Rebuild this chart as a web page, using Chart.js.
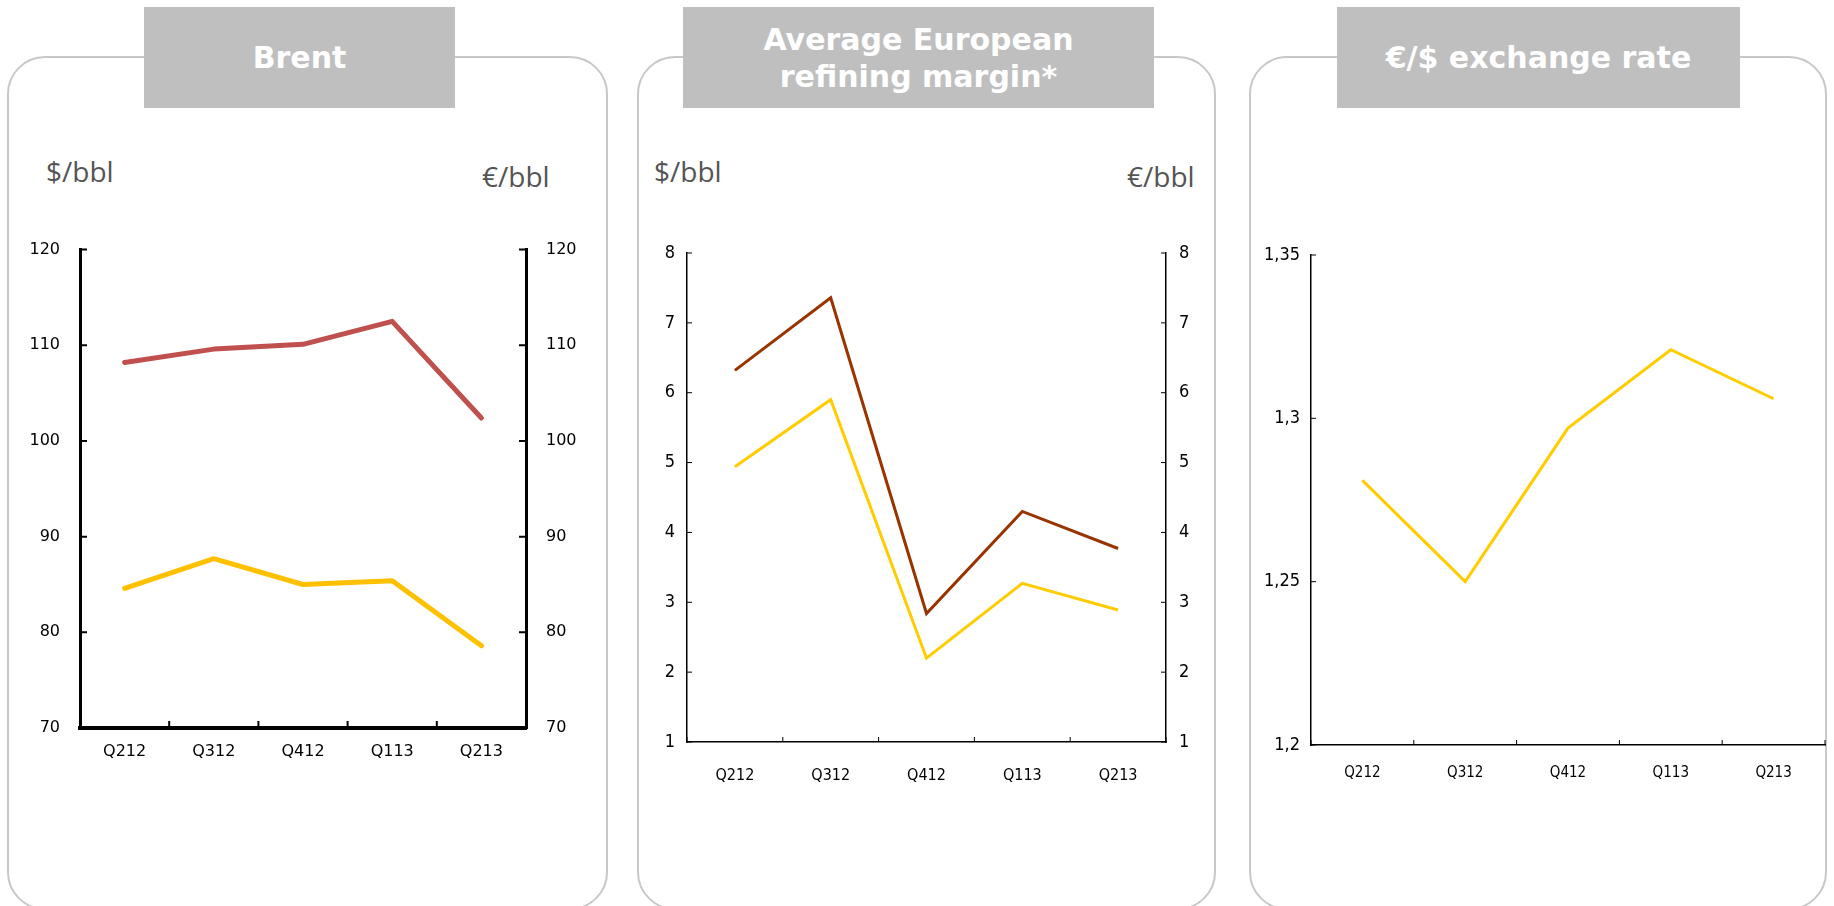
<!DOCTYPE html>
<html>
<head>
<meta charset="utf-8">
<script src="https://cdn.jsdelivr.net/npm/chart.js@4.4.0/dist/chart.umd.min.js"></script>
<style>
  body { margin: 0; background: #fff; width: 1834px; height: 906px; overflow: hidden; position: relative; }
  .panel { position: absolute; top: 56px; height: 854px; border: 2px solid #c8c8c8; border-radius: 38px; box-sizing: border-box; }
  .title { position: absolute; top: 7px; height: 101px; background: #bfbfbf; color: #fff;
           font: bold 30px "DejaVu Sans", sans-serif; line-height: 37px;
           display: flex; align-items: center; justify-content: center; text-align: center; }
  .unit { position: absolute; font: 28px "Open Sans", sans-serif; line-height: 28px; color: #555; }
  canvas { position: absolute; }
</style>
</head>
<body>
<div class="panel" style="left:7px;width:601px"></div>
<div class="panel" style="left:637px;width:579px"></div>
<div class="panel" style="left:1249px;width:578px"></div>

<div class="title" style="left:144px;width:311px">Brent</div>
<div class="title" style="left:683px;width:471px">Average European<br>refining margin*</div>
<div class="title" style="left:1337px;width:403px">€/$ exchange rate</div>

<div class="unit" style="left:46px;top:157px">$/bbl</div>
<div class="unit" style="left:482px;top:162px">€/bbl</div>
<div class="unit" style="left:654px;top:157px">$/bbl</div>
<div class="unit" style="left:1127px;top:162px">€/bbl</div>

<canvas id="brentChart" width="580" height="570" style="left:20px;top:220px"></canvas>
<canvas id="marginChart" width="560" height="580" style="left:650px;top:220px"></canvas>
<canvas id="rateChart" width="572" height="580" style="left:1255px;top:220px"></canvas>

<script>
const quarters = ['Q212', 'Q312', 'Q412', 'Q113', 'Q213'];

const brentUsd = [108.2, 109.6, 110.1, 112.5, 102.4];
const brentEur = [84.6, 87.7, 85.0, 85.4, 78.6];

const marginUsd = [6.32, 7.36, 2.84, 4.30, 3.77];
const marginEur = [4.94, 5.90, 2.20, 3.27, 2.89];

const eurUsd = [1.281, 1.250, 1.297, 1.321, 1.306];
const rateTicks = [1.2, 1.25, 1.3, 1.35];

// tick marks drawn inside the plot, like the original
const insideTicks = {
    id: 'insideTicks',
    afterDraw(chart, args, opts) {
        const ctx = chart.ctx;
        const area = chart.chartArea;
        const len = opts.length;
        ctx.save();
        ctx.strokeStyle = '#000';
        ctx.lineWidth = opts.width;
        ctx.beginPath();
        Object.values(chart.scales).forEach(scale => {
            if (scale.axis === 'x') {
                const n = scale.getLabels().length;
                for (let i = 0; i <= n; i++) {
                    const x = scale.getPixelForValue(i - 0.5);
                    ctx.moveTo(x, area.bottom);
                    ctx.lineTo(x, area.bottom - len);
                }
            } else {
                scale.ticks.forEach(t => {
                    const y = scale.getPixelForValue(t.value);
                    if (scale.position === 'left') {
                        ctx.moveTo(area.left, y);
                        ctx.lineTo(area.left + len, y);
                    } else {
                        ctx.moveTo(area.right, y);
                        ctx.lineTo(area.right - len, y);
                    }
                });
            }
        });
        ctx.stroke();
        ctx.restore();
    }
};

function fixWidth(w) { return s => { s.width = w; }; }
function fixHeight(h) { return s => { s.height = h; }; }

// Brent
const brentFont = { family: 'DejaVu Sans', size: 16 };
function brentAxis(pos, w) {
    return {
        position: pos,
        min: 70, max: 120,
        ticks: { stepSize: 10, color: '#000', font: brentFont, padding: 20 },
        grid: { drawOnChartArea: false, drawTicks: false },
        border: { color: '#000', width: 3 },
        afterFit: fixWidth(w)
    };
}
new Chart(document.getElementById('brentChart').getContext('2d'), {
    type: 'line',
    data: {
        labels: quarters,
        datasets: [{
            label: '$/bbl',
            data: brentUsd,
            borderColor: '#c0504d',
            borderWidth: 5,
            borderCapStyle: 'round',
            borderJoinStyle: 'round',
            pointRadius: 0,
            tension: 0,
            yAxisID: 'y'
        }, {
            label: '€/bbl',
            data: brentEur,
            borderColor: '#ffc000',
            borderWidth: 5,
            borderCapStyle: 'round',
            borderJoinStyle: 'round',
            pointRadius: 0,
            tension: 0,
            yAxisID: 'y1'
        }]
    },
    options: {
        responsive: false,
        animation: false,
        layout: { padding: { top: 20, left: 0, right: 0, bottom: 0 } },
        plugins: { legend: { display: false }, tooltip: { enabled: false }, insideTicks: { length: 7, width: 2 } },
        scales: {
            x: {
                offset: true,
                ticks: { color: '#000', font: brentFont, padding: 14, maxRotation: 0 },
                grid: { drawOnChartArea: false, drawTicks: false, offset: true },
                border: { color: '#000', width: 4 },
                afterFit: fixHeight(62)
            },
            y: brentAxis('left', 60),
            y1: brentAxis('right', 74)
        }
    },
    plugins: [insideTicks]
});

// Refining margin
const narrow = 'Liberation Sans Narrow, DejaVu Sans Condensed, sans-serif';
function marginAxis(pos, w, pad) {
    return {
        position: pos,
        min: 1, max: 8,
        ticks: { stepSize: 1, color: '#000', font: { family: narrow, size: 18 }, padding: pad },
        grid: { drawOnChartArea: false, drawTicks: false },
        border: { color: '#000', width: 1.5 },
        afterFit: fixWidth(w)
    };
}
new Chart(document.getElementById('marginChart').getContext('2d'), {
    type: 'line',
    data: {
        labels: quarters,
        datasets: [{
            label: '$/bbl',
            data: marginUsd,
            borderColor: '#993300',
            borderWidth: 3,
            pointRadius: 0,
            tension: 0,
            yAxisID: 'y'
        }, {
            label: '€/bbl',
            data: marginEur,
            borderColor: '#ffcc00',
            borderWidth: 3,
            pointRadius: 0,
            tension: 0,
            yAxisID: 'y1'
        }]
    },
    options: {
        responsive: false,
        animation: false,
        layout: { padding: { top: 33, left: 0, right: 0, bottom: 0 } },
        plugins: { legend: { display: false }, tooltip: { enabled: false }, insideTicks: { length: 5, width: 1 } },
        scales: {
            x: {
                offset: true,
                ticks: { color: '#000', font: { family: narrow, size: 16 }, padding: 24, maxRotation: 0 },
                grid: { drawOnChartArea: false, drawTicks: false, offset: true },
                border: { color: '#000', width: 1.5 },
                afterFit: fixHeight(58)
            },
            y: marginAxis('left', 37, 12),
            y1: marginAxis('right', 44, 13)
        }
    },
    plugins: [insideTicks]
});

// Exchange rate
new Chart(document.getElementById('rateChart').getContext('2d'), {
    type: 'line',
    data: {
        labels: quarters,
        datasets: [{
            label: '€/$',
            data: eurUsd,
            borderColor: '#ffcc00',
            borderWidth: 3,
            pointRadius: 0,
            tension: 0
        }]
    },
    options: {
        responsive: false,
        animation: false,
        layout: { padding: { top: 35, left: 0, right: 2, bottom: 0 } },
        plugins: { legend: { display: false }, tooltip: { enabled: false }, insideTicks: { length: 5, width: 1 } },
        scales: {
            x: {
                offset: true,
                ticks: { color: '#000', font: { family: narrow, size: 15 }, padding: 19, maxRotation: 0 },
                grid: { drawOnChartArea: false, drawTicks: false, offset: true },
                border: { color: '#000', width: 1.5 },
                afterFit: fixHeight(55)
            },
            y: {
                min: 1.2, max: 1.35,
                afterBuildTicks: s => { s.ticks = rateTicks.map(v => ({ value: v })); },
                ticks: {
                    color: '#000',
                    font: { family: narrow, size: 18 },
                    padding: 11,
                    callback: v => String(v).replace('.', ',')
                },
                grid: { drawOnChartArea: false, drawTicks: false },
                border: { color: '#000', width: 1.5 },
                afterFit: fixWidth(56)
            }
        }
    },
    plugins: [insideTicks]
});
</script>
</body>
</html>
